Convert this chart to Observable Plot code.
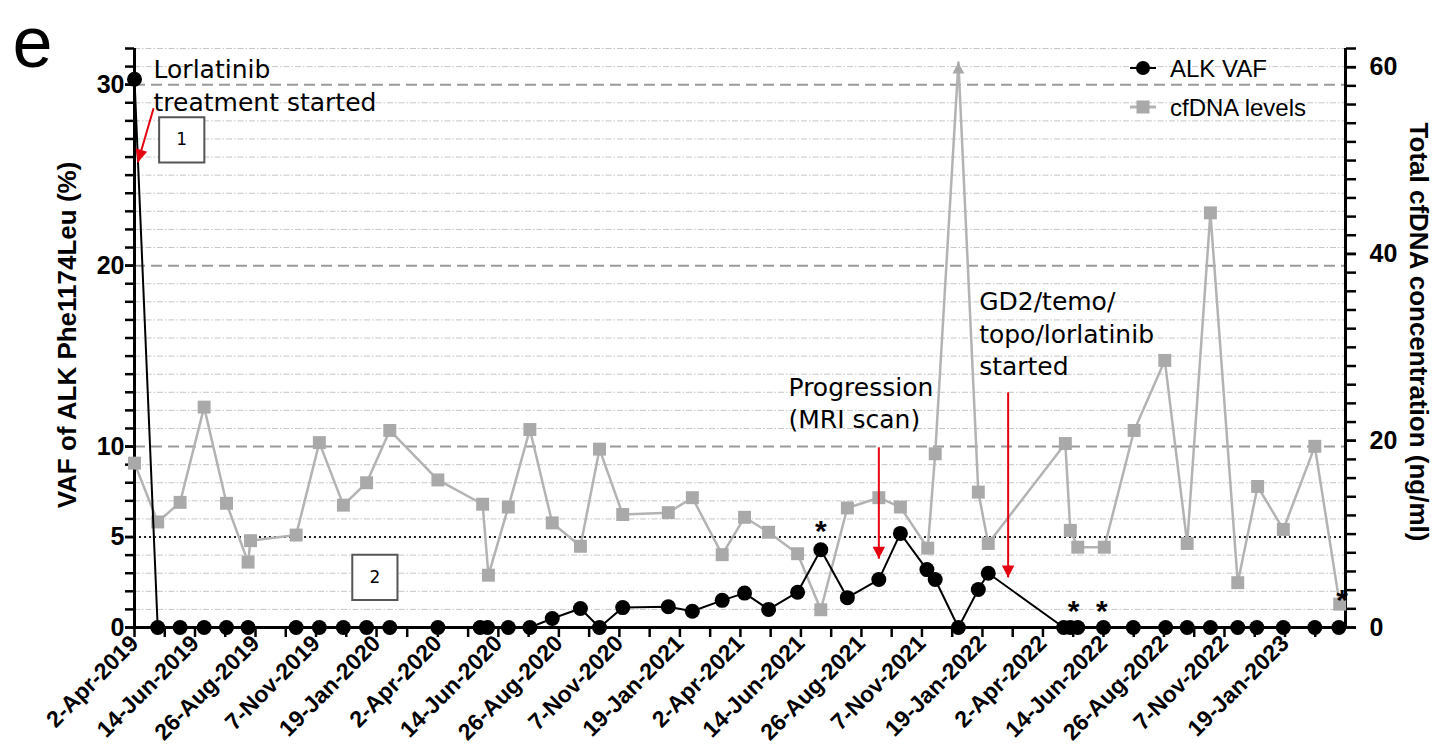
<!DOCTYPE html>
<html>
<head>
<meta charset="utf-8">
<script src="https://cdn.jsdelivr.net/npm/d3@7"></script>
<script src="https://cdn.jsdelivr.net/npm/@observablehq/plot@0.6"></script>
<style>
  body { margin: 0; background: #fff; }
  #wrap { position: relative; width: 1434px; height: 754px; overflow: hidden; }
</style>
</head>
<body>
<div id="wrap"></div>
<script>
// ---------- data ----------
const vafDates = ["2019-04-02","2019-04-30","2019-05-27","2019-06-25","2019-07-22","2019-08-17","2019-10-14","2019-11-11","2019-12-10",
  "2020-01-07","2020-02-04","2020-04-02","2020-05-23","2020-06-01","2020-06-26","2020-07-22","2020-08-18","2020-09-21","2020-10-14","2020-11-11",
  "2021-01-05","2021-02-03","2021-03-11","2021-04-07","2021-05-06","2021-06-10","2021-07-08","2021-08-09","2021-09-16","2021-10-12","2021-11-13","2021-11-23","2021-12-21",
  "2022-01-14","2022-01-26","2022-04-27","2022-05-05","2022-05-14","2022-06-14","2022-07-20","2022-08-28","2022-09-23","2022-10-21","2022-11-23","2022-12-16",
  "2023-01-17","2023-02-24","2023-03-25"];
const vafValues = [30.3,0,0,0,0,0,0,0,0,
  0,0,0,0,0,0,0,0.5,1.05,0,1.1,
  1.15,0.9,1.5,1.9,1.0,1.95,4.3,1.65,2.65,5.2,3.2,2.65,0,
  2.1,3.0,0,0,0,0,0,0,0,0,0,0,
  0,0,0];

const cfDates = ["2019-04-02","2019-04-30","2019-05-27","2019-06-25","2019-07-22","2019-08-17","2019-08-20","2019-10-14","2019-11-11","2019-12-10",
  "2020-01-07","2020-02-04","2020-04-02","2020-05-26","2020-06-02","2020-06-26","2020-07-22","2020-08-18","2020-09-21","2020-10-14","2020-11-11",
  "2021-01-05","2021-02-03","2021-03-11","2021-04-07","2021-05-06","2021-06-10","2021-07-08","2021-08-09","2021-09-16","2021-10-12","2021-11-14","2021-11-23","2021-12-21",
  "2022-01-14","2022-01-26","2022-04-29","2022-05-05","2022-05-14","2022-06-15","2022-07-21","2022-08-27","2022-09-23","2022-10-21","2022-11-23","2022-12-17",
  "2023-01-17","2023-02-24","2023-03-26"];
const cfValues = [17.6,11.3,13.4,23.6,13.3,7.0,9.3,9.9,19.8,13.1,
  15.5,21.1,15.8,13.2,5.6,12.9,21.2,11.2,8.7,19.1,12.1,
  12.3,13.9,7.8,11.8,10.2,7.9,1.9,12.8,13.9,12.9,8.5,18.6,60.5,
  14.5,9.0,19.7,10.4,8.6,8.6,21.1,28.6,9.0,44.4,4.8,15.1,
  10.5,19.4,2.5];

const tickLabels = ["2-Apr-2019","14-Jun-2019","26-Aug-2019","7-Nov-2019","19-Jan-2020","2-Apr-2020","14-Jun-2020","26-Aug-2020","7-Nov-2020","19-Jan-2021",
  "2-Apr-2021","14-Jun-2021","26-Aug-2021","7-Nov-2021","19-Jan-2022","2-Apr-2022","14-Jun-2022","26-Aug-2022","7-Nov-2022","19-Jan-2023"];
const xDomainDates = ["2019-04-02","2023-04-02"];
const leftTicks = [0,5,10,20,30];
const leftMax = 32;
const rightTicks = [0,20,40,60];
const rightMax = 62;

const asteriskDates = ["2021-07-08","2022-05-09","2022-06-12","2023-03-29"];
const asteriskValues = [5.75,1.33,1.33,1.93];

const annoTexts = ["Lorlatinib\ntreatment started","Progression\n(MRI scan)","GD2/temo/\ntopo/lorlatinib\nstarted"];
const annoDates = ["2019-04-25","2021-05-30","2022-01-15"];
const annoValues = [28.56,11.0,13.95];

const arrowFromDates = ["2019-04-25","2021-09-16","2022-02-19"];
const arrowFromValues = [28.7,9.96,13.0];
const arrowToDates = ["2019-04-06","2021-09-16","2022-02-19"];
const arrowToValues = [25.7,3.8,2.77];

const boxLabels = ["1","2"];
const boxDates = ["2019-05-29","2020-01-17"];
const boxValues = [26.95,2.77];

const legendLabels = ["ALK VAF","cfDNA levels"];
const leftTitle = "VAF of ALK Phe1174Leu (%)";
const rightTitle = "Total cfDNA concentration (ng/ml)";
const panelLetter = "e";

// ---------- derived tables ----------
const P = d3.utcParse("%Y-%m-%d");
const k = leftMax / rightMax;
const vaf = vafDates.map((d, i) => ({date: P(d), v: vafValues[i]}));
const cf = cfDates.map((d, i) => ({date: P(d), v: cfValues[i] * k, raw: cfValues[i]}));
const cfMax = d3.max(cfValues);
const xDomain = xDomainDates.map(P);
const tp = d3.utcParse("%e-%b-%Y");
const majorTicks = tickLabels.map(tp);
const labelMap = new Map(majorTicks.map((d, i) => [+d, tickLabels[i]]));
const minorTicks = d3.pairs(majorTicks.concat([xDomain[1]])).map(([a, b]) => new Date((+a + +b) / 2));
const asterisks = asteriskDates.map((d, i) => ({date: P(d), v: asteriskValues[i]}));
const annos = annoTexts.map((t, i) => ({text: t, date: P(annoDates[i]), v: annoValues[i]}));
const arrows = arrowFromDates.map((d, i) => ({x1: P(d), y1: arrowFromValues[i], x2: P(arrowToDates[i]), y2: arrowToValues[i]}));
const boxes = boxLabels.map((t, i) => ({text: t, date: P(boxDates[i]), v: boxValues[i]}));

const lightGrid = d3.range(1, leftMax + 1).filter(v => !leftTicks.includes(v));
const leftMinor = d3.range(0, leftMax + 1);
const rightMinor = d3.range(0, rightMax + 1, 2).map(v => v * k);

// arrowhead symbol with its tip at the origin
function headSymbol(ux, uy, len, half) {
  return {
    draw(ctx) {
      const bx = -ux * len, by = -uy * len, px = -uy, py = ux;
      ctx.moveTo(0, 0);
      ctx.lineTo(bx + px * half, by + py * half);
      ctx.lineTo(bx - px * half, by - py * half);
      ctx.closePath();
    }
  };
}
const headDiag = headSymbol(-0.274, 0.961, 13, 6);
const headDown = headSymbol(0, 1, 12, 6.2);
const peakUp = headSymbol(0, -1, 11, 6);

const RED = "#e3000f";
const GRAY_LINE = "#b3b3b3";
const GRAY_FILL = "#a9a9a9";
const SANS = "'Liberation Sans', Arial, sans-serif";
const ANNO = "'DejaVu Sans', Verdana, sans-serif";

const W = 1434, H = 754;
const plot = Plot.plot({
  width: W, height: H,
  marginTop: 48, marginBottom: 127, marginLeft: 134, marginRight: 89,
  style: {fontFamily: SANS, fontWeight: "bold", color: "black", background: "white", overflow: "visible"},
  x: {type: "utc", domain: xDomain},
  y: {domain: [0, leftMax]},
  marks: [
    // grid
    Plot.ruleY(lightGrid, {stroke: "#c6c6c6", strokeWidth: 1, strokeDasharray: "6,2,1.5,2"}),
    Plot.ruleY([10, 20, 30], {stroke: "#9a9a9a", strokeWidth: 2, strokeDasharray: "11,6"}),
    Plot.ruleY([5], {stroke: "#222", strokeWidth: 2, strokeDasharray: "2,3"}),
    // axes
    Plot.axisX(majorTicks, {tickSize: 10, tickPadding: 2, tickRotate: -45, tickFormat: d => labelMap.get(+d), fontSize: 23, fontWeight: "bold", label: null, strokeWidth: 2.5}),
    Plot.axisX(minorTicks, {tickSize: 10, tickFormat: () => "", label: null, strokeWidth: 2.5}),
    Plot.axisY(leftTicks, {anchor: "left", tickSize: 9, tickPadding: 1, fontSize: 25, fontWeight: "bold", label: null, strokeWidth: 2.5}),
    Plot.axisY(leftMinor, {anchor: "left", tickSize: 9, tickFormat: () => "", label: null, strokeWidth: 2.5}),
    Plot.axisY(rightTicks.map(v => v * k), {anchor: "right", tickSize: 10, tickPadding: 14, tickFormat: d => String(Math.round(d / k)), fontSize: 25, fontWeight: "bold", label: null, strokeWidth: 2.5}),
    Plot.axisY(rightMinor, {anchor: "right", tickSize: 10, tickFormat: () => "", label: null, strokeWidth: 2.5}),
    Plot.ruleY([0], {stroke: "black", strokeWidth: 3}),
    Plot.ruleX([xDomain[0]], {stroke: "black", strokeWidth: 3}),
    Plot.ruleX([xDomain[1]], {stroke: "black", strokeWidth: 3}),
    // cfDNA series
    Plot.line(cf, {x: "date", y: "v", stroke: GRAY_LINE, strokeWidth: 2.5}),
    Plot.dot(cf.filter(d => d.raw !== cfMax), {x: "date", y: "v", symbol: "square", r: 7.3, fill: GRAY_FILL}),
    Plot.dot(cf.filter(d => d.raw === cfMax), {x: "date", y: "v", symbol: peakUp, r: 6, fill: GRAY_FILL}),
    // ALK VAF series
    Plot.line(vaf, {x: "date", y: "v", stroke: "black", strokeWidth: 2}),
    Plot.dot(vaf, {x: "date", y: "v", r: 7.5, fill: "black"}),
    Plot.text(asterisks, {x: "date", y: "v", text: () => "*", fontSize: 30, fontWeight: "bold", dy: 8, lineAnchor: "middle"}),
    // arrows
    Plot.link(arrows, {x1: "x1", y1: "y1", x2: "x2", y2: "y2", stroke: RED, strokeWidth: 2}),
    Plot.dot(arrows.slice(0, 1), {x: "x2", y: "y2", symbol: headDiag, r: 6, fill: RED}),
    Plot.dot(arrows.slice(1), {x: "x2", y: "y2", symbol: headDown, r: 6, fill: RED}),
    // numbered boxes
    Plot.dot(boxes, {x: "date", y: "v", symbol: "square", r: 25.5, fill: "white", stroke: "#555", strokeWidth: 2}),
    Plot.text(boxes, {x: "date", y: "v", text: "text", fontFamily: ANNO, fontSize: 17, fontWeight: "normal"}),
    // annotations
    Plot.text(annos, {x: "date", y: "v", text: "text", fontFamily: ANNO, fontSize: 25, fontWeight: "normal", textAnchor: "start", lineAnchor: "bottom", lineHeight: 1.3}),
    // titles
    Plot.text([leftTitle], {frameAnchor: "left", dx: -67, dy: -3, rotate: -90, textAnchor: "middle", lineAnchor: "middle", fontSize: 26, fontWeight: "bold"}),
    Plot.text([rightTitle], {frameAnchor: "right", dx: 73, dy: -6, rotate: 90, textAnchor: "middle", lineAnchor: "middle", fontSize: 26, fontWeight: "bold"}),
    Plot.text([panelLetter], {frameAnchor: "top-left", dx: -122, dy: 18, lineAnchor: "bottom", textAnchor: "start", fontSize: 72, fontWeight: "normal"})
  ]
});
const wrap = document.getElementById("wrap");
wrap.appendChild(plot);

// ---------- legend overlay ----------
const leg = d3.select(wrap).append("svg")
  .attr("width", W).attr("height", H)
  .style("position", "absolute").style("left", 0).style("top", 0)
  .style("pointer-events", "none");
const lg = leg.append("g").attr("transform", "translate(1130,68)");
legendLabels.forEach((t, i) => {
  const g = lg.append("g").attr("transform", `translate(0,${i * 39})`);
  if (i === 0) {
    g.append("line").attr("x1", 0).attr("x2", 26).attr("stroke", "black").attr("stroke-width", 2);
    g.append("circle").attr("cx", 13).attr("r", 7).attr("fill", "black");
  } else {
    g.append("line").attr("x1", 0).attr("x2", 26).attr("stroke", GRAY_LINE).attr("stroke-width", 3);
    g.append("rect").attr("x", 6.5).attr("y", -6.5).attr("width", 13).attr("height", 13).attr("fill", GRAY_FILL);
  }
  g.append("text").attr("x", 40).attr("y", 8.5)
    .attr("font-family", SANS).attr("font-size", 24).attr("fill", "black").text(t);
});
</script>
</body>
</html>
